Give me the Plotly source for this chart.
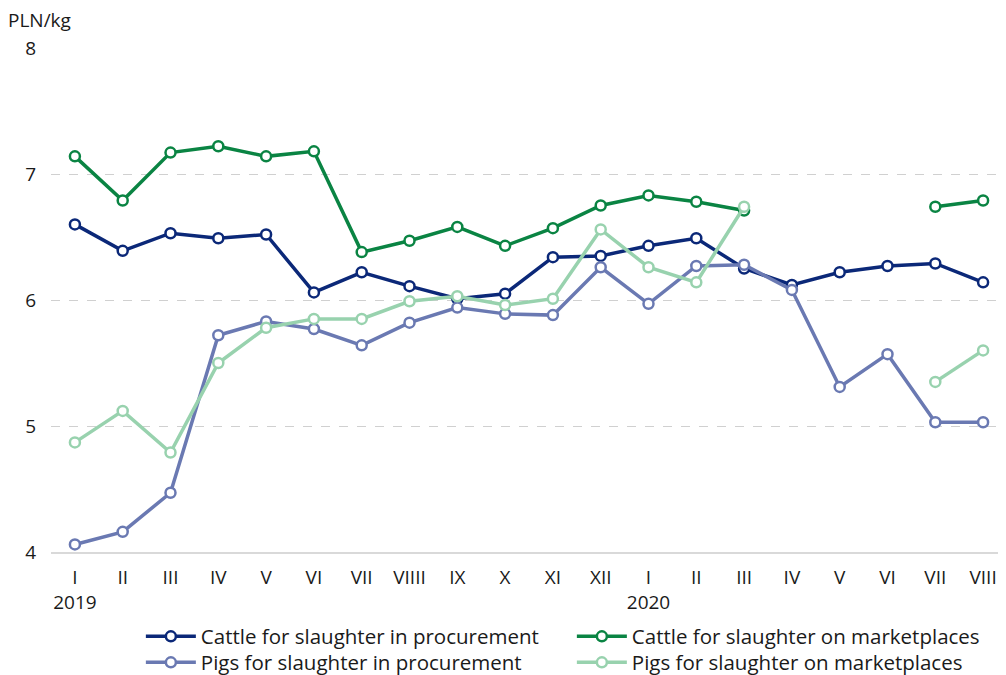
import plotly.graph_objects as go

months = ["I", "II", "III", "IV", "V", "VI", "VII", "VIIII", "IX", "X", "XI", "XII",
          "I ", "II ", "III ", "IV ", "V ", "VI ", "VII ", "VIII"]
tick_text = ["I<br>2019", "II", "III", "IV", "V", "VI", "VII", "VIIII", "IX", "X", "XI", "XII",
             "I<br>2020", "II", "III", "IV", "V", "VI", "VII", "VIII"]

cattle_proc = [6.60, 6.39, 6.53, 6.49, 6.52, 6.06, 6.22, 6.11, 6.01, 6.05, 6.34, 6.35,
               6.43, 6.49, 6.25, 6.12, 6.22, 6.27, 6.29, 6.14]
cattle_market = [7.14, 6.79, 7.17, 7.22, 7.14, 7.18, 6.38, 6.47, 6.58, 6.43, 6.57, 6.75,
                 6.83, 6.78, 6.71, None, None, None, 6.74, 6.79]
pigs_proc = [4.06, 4.16, 4.47, 5.72, 5.83, 5.77, 5.64, 5.82, 5.94, 5.89, 5.88, 6.26,
             5.97, 6.27, 6.28, 6.08, 5.31, 5.57, 5.03, 5.03]
pigs_market = [4.87, 5.12, 4.79, 5.50, 5.78, 5.85, 5.85, 5.99, 6.03, 5.96, 6.01, 6.56,
               6.26, 6.14, 6.74, None, None, None, 5.35, 5.60]

series = [
    ("Cattle for slaughter in procurement", cattle_proc, "#0b2878", "legend"),
    ("Cattle for slaughter on marketplaces", cattle_market, "#0a8443", "legend"),
    ("Pigs for slaughter in procurement", pigs_proc, "#6a79b2", "legend2"),
    ("Pigs for slaughter on marketplaces", pigs_market, "#98d2ae", "legend2"),
]

FONT = "Open Sans"

fig = go.Figure()
for name, vals, col, lg in series:
    fig.add_trace(go.Scatter(
        x=months, y=vals, name=name, mode="lines+markers",
        connectgaps=False, legend=lg,
        line=dict(color=col, width=3.5),
        marker=dict(size=10, color="white", line=dict(color=col, width=2.5)),
    ))

legend_common = dict(orientation="h", x=0.094, xanchor="left", yref="container",
                     yanchor="top", entrywidth=366, entrywidthmode="pixels",
                     font=dict(family=FONT, size=20.5), tracegroupgap=0, itemwidth=50,
                     bgcolor="rgba(0,0,0,0)")

fig.update_layout(
    width=1006, height=675,
    margin=dict(l=43, r=7, t=40, b=131, autoexpand=False),
    paper_bgcolor="white", plot_bgcolor="white",
    font=dict(family=FONT, size=19, color="#1a1a1a"),
    showlegend=True,
    legend=dict(y=0.0985, **legend_common),
    legend2=dict(y=0.0600, **legend_common),
)
fig.add_annotation(text="PLN/kg", xref="paper", yref="paper", x=-0.047, y=1.056,
                   xanchor="left", yanchor="middle", showarrow=False,
                   font=dict(family=FONT, size=19))

fig.update_xaxes(
    type="category", categoryorder="array", categoryarray=months,
    tickvals=months, ticktext=tick_text, range=[-0.5, 19.5],
    showgrid=False, showline=True, linecolor="#d9d9d9", linewidth=2,
    ticks="", ticklabelstandoff=7, tickfont=dict(family=FONT, size=19),
)
fig.update_yaxes(
    range=[4, 8], tickvals=[4, 5, 6, 7, 8], showgrid=True,
    gridcolor="#d0d0d0", griddash="dash", gridwidth=1,
    zeroline=False, showline=False, ticks="", ticklabelstandoff=14,
    tickfont=dict(family=FONT, size=19),
)

fig.write_html("out.html")
